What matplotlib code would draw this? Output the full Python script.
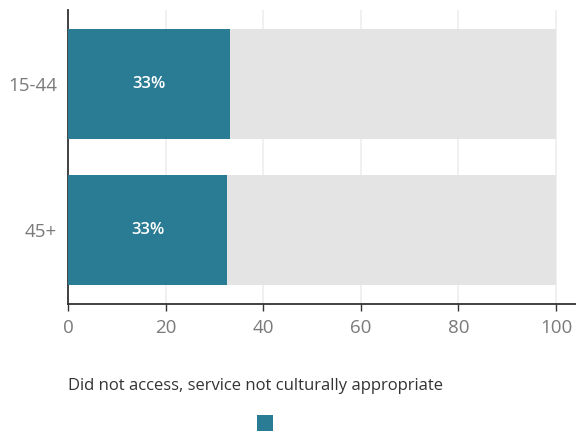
import matplotlib
matplotlib.use("Agg")
import matplotlib.pyplot as plt
from matplotlib.patches import Rectangle

categories = ["15-44", "45+"]
values = [33.2, 32.6]
labels = ["33%", "33%"]
totals = [100, 100]
xticks = [0, 20, 40, 60, 80, 100]
legend_label = "Did not access, service not culturally appropriate"

teal = "#2a7b94"
grey = "#e4e4e4"
tick_col = "#7a7a7a"

plt.rcParams["font.family"] = ["Open Sans", "DejaVu Sans"]

fig = plt.figure(figsize=(5.76, 4.32), dpi=100)
ax = fig.add_axes([68 / 576, 1 - 304 / 432, (576 - 68) / 576, (304 - 10) / 432])

pos = list(range(len(categories)))
ax.barh(pos, totals, height=0.753, color=grey, zorder=2)
ax.barh(pos, values, height=0.753, color=teal, zorder=3)
for p, v, lab in zip(pos, values, labels):
    ax.text(v / 2, p, lab, color="white", ha="center", va="center",
            fontsize=12, fontweight="semibold", zorder=4)

ax.set_xlim(0, 104.1)
ax.set_ylim(1.507, -0.507)
ax.set_yticks(pos)
ax.set_yticklabels(categories)
ax.set_xticks(xticks)
ax.tick_params(axis="y", length=0, pad=8, labelsize=13.5, labelcolor=tick_col)
ax.tick_params(axis="x", length=5, width=1, color="#333333", pad=6,
               labelsize=13.5, labelcolor=tick_col)
ax.grid(axis="x", color="#eeeeee", linewidth=1.2, zorder=0)
ax.set_axisbelow(True)
for s in ["top", "right"]:
    ax.spines[s].set_visible(False)
for s in ["left", "bottom"]:
    ax.spines[s].set_color("#333333")
    ax.spines[s].set_linewidth(1.3)

fig.text(68 / 576, 1 - 386 / 432, legend_label, fontsize=12, color="#333333",
         ha="left", va="center")
fig.patches.append(Rectangle((257 / 576, 1 - 431 / 432), 16 / 576, 16 / 432,
                             transform=fig.transFigure, facecolor=teal,
                             edgecolor="none"))

fig.savefig("out.png", dpi=100)
